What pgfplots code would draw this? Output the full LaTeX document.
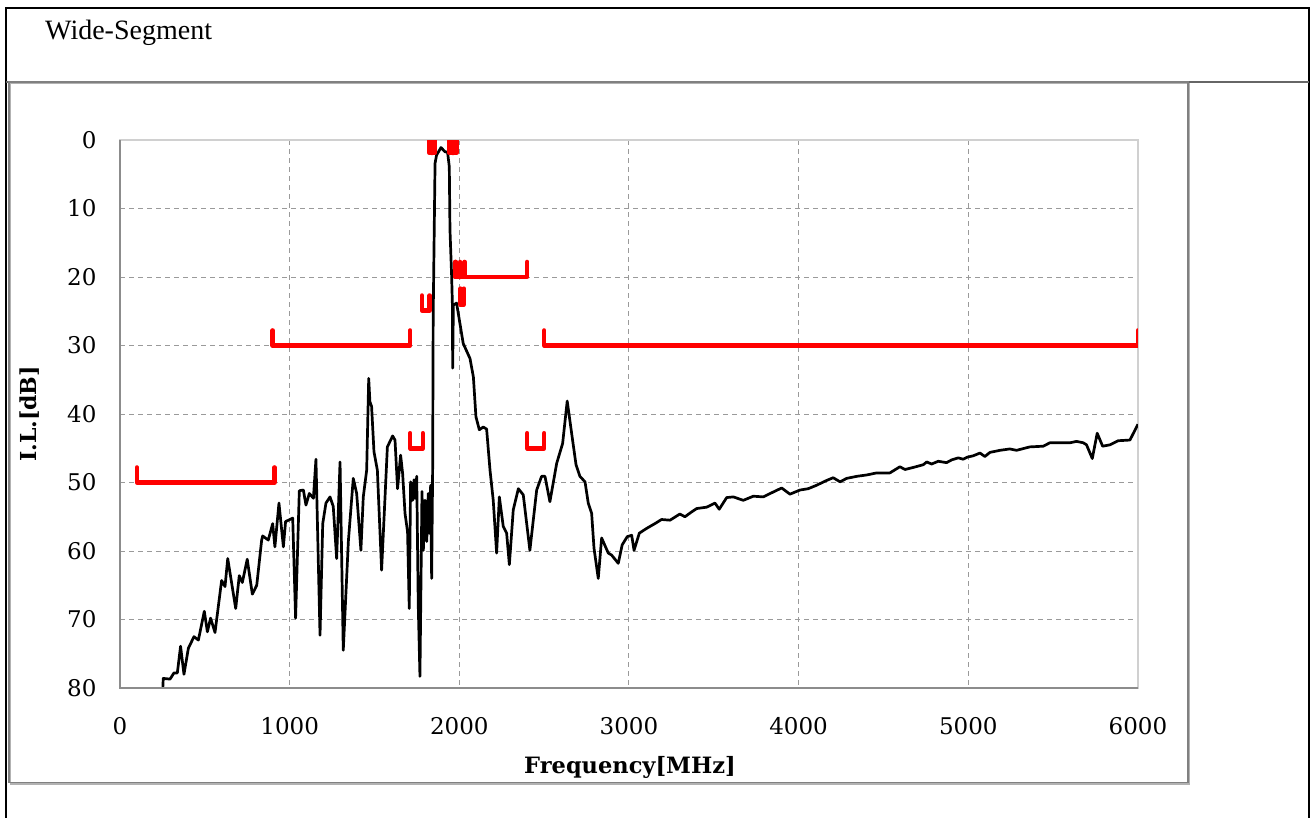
\documentclass[border=0pt]{standalone}
\usepackage{pgfplots}
\pgfplotsset{compat=1.18}
\usepackage{fontspec}
\setmainfont{DejaVu Serif}
\newfontfamily\titlefont{Liberation Serif}
\definecolor{gridgray}{HTML}{9A9A9A}
\definecolor{framegray}{HTML}{8C8C8C}
\definecolor{lightframe}{HTML}{D0D0D0}
\definecolor{specred}{HTML}{FF0000}
\begin{document}
\begin{tikzpicture}
\useasboundingbox (0,0) rectangle (1316bp,-818bp);
% outer table frame
\draw[black, line width=2bp] (6bp,-830bp) -- (6bp,-8bp) -- (1308.5bp,-8bp) -- (1308.5bp,-830bp);
\draw[black!60, line width=2bp] (6bp,-81.5bp) -- (1308.5bp,-81.5bp);
% chart area box
\draw[black!30, line width=1.2bp] (10.5bp,-83.5bp) rectangle (1189.5bp,-784bp);
\draw[black!50, line width=1.4bp] (9bp,-82bp) rectangle (1188bp,-782.5bp);
\node[anchor=base west, font=\titlefont\fontsize{28bp}{30bp}\selectfont, inner sep=0pt] at (45bp,-39bp) {Wide-Segment};
\begin{axis}[
  at={(120bp,-140bp)}, anchor=north west,
  width=1018bp, height=548bp, scale only axis,
  xmin=0, xmax=6000, ymin=0, ymax=80, y dir=reverse,
  xtick={0,1000,...,6000}, ytick={0,10,...,80},
  major tick length=0pt,
  /pgf/number format/1000 sep={},
  /pgf/number format/assume math mode=true,
  ticklabel style={font=\fontsize{23bp}{23bp}\selectfont},
  xticklabel style={yshift=-26bp},
  yticklabel style={xshift=-20bp},
  grid=major,
  major grid style={draw=gridgray, line width=1bp, dash pattern=on 5bp off 4bp},
  axis line style={draw=lightframe, line width=1.2bp},
  clip=true,
  spec/.style={specred, line width=4.5bp, line join=round, line cap=round},
]
\addplot[black, line width=2.7bp, line join=round] coordinates {
(252,80.2) (255,78.6) (295,78.7) (318,77.8) (338,77.8) (357,73.9) (377,78.0) (403,74.2)
(436,72.5) (462,73.0) (497,68.8) (515,71.8) (534,69.8) (560,71.9) (599,64.3) (619,65.2)
(635,61.1) (682,68.4) (703,63.6) (721,64.6) (750,61.2) (780,66.3) (806,65.0) (835,58.4)
(841,57.8) (874,58.4) (900,56.0) (913,59.4) (937,53.0) (963,59.4) (976,55.7) (1018,55.2)
(1035,69.8) (1057,51.2) (1081,51.1) (1096,53.3) (1116,51.6) (1140,52.3) (1155,46.6) (1179,72.3)
(1195,56.0) (1214,53.0) (1238,52.1) (1257,53.5) (1277,61.1) (1297,47.0) (1316,74.5) (1346,58.6)
(1375,49.4) (1395,51.6) (1420,59.9) (1434,52.1) (1454,48.2) (1458,43.7) (1466,34.8) (1473,38.2)
(1483,38.9) (1497,45.5) (1517,48.2) (1542,62.8) (1576,44.8) (1607,43.2) (1621,43.8) (1636,50.9)
(1654,46.0) (1666,48.7) (1680,54.5) (1695,57.2) (1705,68.4) (1713,49.9) (1725,52.6) (1733,49.6)
(1739,52.3) (1749,49.1) (1758,67.9) (1768,78.3) (1780,51.3) (1788,59.9) (1798,52.6) (1808,58.6)
(1817,51.6) (1823,57.4) (1831,50.4) (1837,64.0) (1843,47.7) (1846,25.8) (1857,3.4) (1866,2.2)
(1892,1.1) (1915,1.7) (1931,1.8) (1941,3.9) (1945,13.1) (1955,20.0) (1959,23.8) (1961,33.3)
(1965,24.1) (1984,23.8) (2023,29.7) (2063,31.9) (2083,34.6) (2098,40.4) (2118,42.3) (2141,41.9)
(2161,42.2) (2181,48.2) (2200,52.6) (2220,60.3) (2236,52.1) (2259,56.4) (2279,57.4) (2295,62.0)
(2318,54.0) (2348,50.9) (2377,51.8) (2416,59.9) (2456,51.1) (2485,49.1) (2505,49.1) (2534,52.8)
(2574,47.2) (2609,44.3) (2636,38.1) (2662,42.8) (2688,47.4) (2711,49.1) (2741,49.9) (2760,53.0)
(2780,54.5) (2794,59.6) (2819,64.0) (2839,58.1) (2878,60.3) (2898,60.6) (2937,61.8) (2960,59.1)
(2990,57.9) (3016,57.7) (3030,59.9) (3061,57.4) (3104,56.7) (3153,56.0) (3192,55.4) (3242,55.5)
(3300,54.6) (3330,55.0) (3369,54.3) (3399,53.8) (3458,53.6) (3507,53.0) (3532,53.9) (3576,52.2)
(3615,52.1) (3674,52.6) (3733,52.0) (3792,52.1) (3841,51.5) (3900,50.8) (3949,51.7) (4008,51.1)
(4057,50.9) (4106,50.4) (4165,49.7) (4204,49.3) (4244,49.9) (4283,49.4) (4342,49.1) (4401,48.9)
(4460,48.6) (4538,48.6) (4597,47.7) (4627,48.1) (4676,47.8) (4735,47.4) (4755,47.0) (4784,47.3)
(4823,46.9) (4872,47.1) (4902,46.7) (4941,46.4) (4970,46.6) (4994,46.3) (5029,46.1) (5069,45.7)
(5098,46.2) (5128,45.6) (5187,45.3) (5245,45.1) (5285,45.3) (5363,44.8) (5442,44.7) (5481,44.2)
(5540,44.2) (5599,44.2) (5638,44.0) (5678,44.2) (5697,44.5) (5731,46.5) (5760,42.8) (5792,44.7)
(5835,44.5) (5884,43.9) (5953,43.8) (6000,41.5)
};
% specification brackets
\addplot[spec] coordinates {(100,47.8) (100,50) (910,50) (910,47.8)};
\addplot[spec] coordinates {(900,27.8) (900,30) (1710,30) (1710,27.8)};
\addplot[spec] coordinates {(2500,27.8) (2500,30) (6000,30) (6000,27.8)};
\addplot[spec] coordinates {(1710,42.8) (1710,45) (1785,45) (1785,42.8)};
\addplot[spec] coordinates {(2400,42.8) (2400,45) (2500,45) (2500,42.8)};
\addplot[spec] coordinates {(1780,22.7) (1780,24.9) (1825,24.9) (1825,22.7)};
\addplot[spec] coordinates {(1825,-0.3) (1825,1.9) (1855,1.9) (1855,-0.3)};
\addplot[spec] coordinates {(1840,-0.3) (1840,1.9)};
\addplot[spec] coordinates {(1943,-0.3) (1943,1.9) (1982,1.9) (1982,-0.3)};
\addplot[spec] coordinates {(1962,-0.3) (1962,1.9)};
\addplot[spec] coordinates {(1978,17.8) (1978,20) (2400,20) (2400,17.8)};
\addplot[spec] coordinates {(1978,17.8) (1978,20) (2032,20) (2032,17.8)};
\addplot[spec] coordinates {(2005,17.8) (2005,20)};
\addplot[spec] coordinates {(2007,21.7) (2007,24) (2027,24) (2027,21.7)};
\end{axis}
% left and bottom axis lines (darker)
\draw[framegray, line width=1.4bp] (120bp,-140bp) -- (120bp,-688bp) -- (1138bp,-688bp);
% axis titles
\node[font=\bfseries\fontsize{22.5bp}{24bp}\selectfont] at (630bp,-767bp) {Frequency[MHz]};
\node[font=\bfseries\fontsize{22bp}{24bp}\selectfont, rotate=90] at (30bp,-414bp) {I.L.[dB]};
\end{tikzpicture}
\end{document}
